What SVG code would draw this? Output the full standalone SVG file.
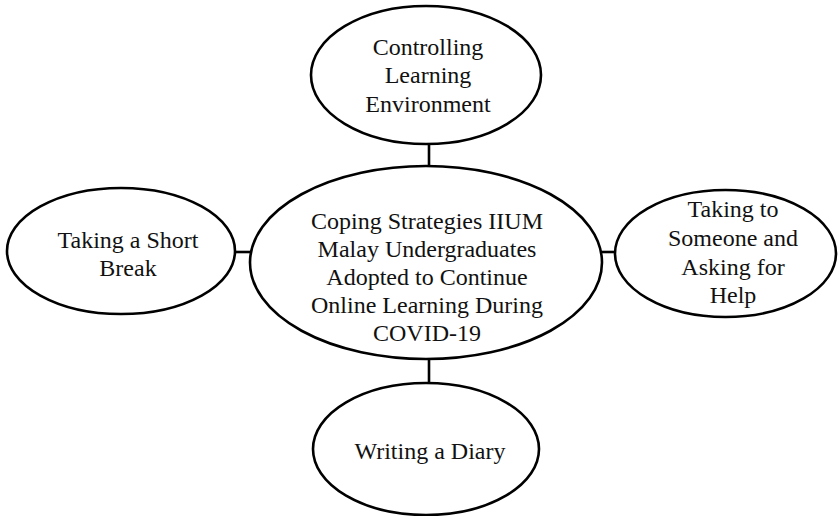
<svg xmlns="http://www.w3.org/2000/svg" width="839" height="516" viewBox="0 0 839 516">
  <style>
    .node ellipse { fill: #ffffff; stroke: #000000; stroke-width: 2.6; }
    .node text { font-family: 'Liberation Serif', 'Times New Roman', Times, serif; font-size: 24px; fill: #111111; text-anchor: middle; }
    .links line { stroke: #000000; stroke-width: 2.6; }
  </style>
  <rect width="839" height="516" fill="#ffffff"/>

  <!-- connectors between the central theme and each strategy -->
  <g id="connectors" class="links">
    <line x1="429" y1="143" x2="429" y2="167"/>
    <line x1="429" y1="358" x2="429" y2="384"/>
    <line x1="234" y1="252" x2="251" y2="252"/>
    <line x1="601" y1="252" x2="616" y2="252"/>
  </g>

  <g id="node-center" class="node">
    <ellipse cx="426" cy="262.5" rx="176" ry="96.5"/>
    <text x="427" y="229">Coping Strategies IIUM</text>
    <text x="427" y="257">Malay Undergraduates</text>
    <text x="427" y="285">Adopted to Continue</text>
    <text x="427" y="313">Online Learning During</text>
    <text x="427" y="341">COVID-19</text>
  </g>

  <g id="node-top" class="node">
    <ellipse cx="426" cy="75" rx="115" ry="69"/>
    <text x="428" y="55">Controlling</text>
    <text x="428" y="83">Learning</text>
    <text x="428" y="112">Environment</text>
  </g>

  <g id="node-left" class="node">
    <ellipse cx="121" cy="251" rx="114" ry="63"/>
    <text x="128" y="248">Taking a Short</text>
    <text x="128" y="276">Break</text>
  </g>

  <g id="node-right" class="node">
    <ellipse cx="725.5" cy="253.5" rx="110.5" ry="63.5"/>
    <text x="733" y="217">Taking to</text>
    <text x="733" y="246">Someone and</text>
    <text x="733" y="275">Asking for</text>
    <text x="733" y="303">Help</text>
  </g>

  <g id="node-bottom" class="node">
    <ellipse cx="426" cy="449" rx="113" ry="66"/>
    <text x="430" y="459">Writing a Diary</text>
  </g>
</svg>
